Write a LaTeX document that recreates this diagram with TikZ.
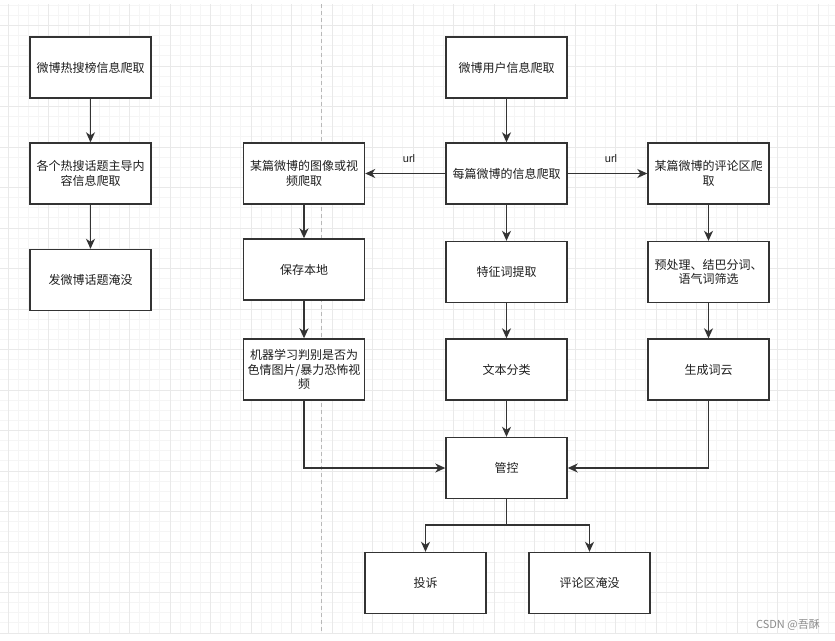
\documentclass[tikz,border=0pt]{standalone}
\usepackage{fontspec}
\setmainfont{Noto Sans CJK SC}
\newfontfamily\lat{Liberation Sans}
\usetikzlibrary{arrows.meta}
\definecolor{gminor}{HTML}{F5F5F5}
\definecolor{gmajor}{HTML}{E9E9E9}
\definecolor{ink}{HTML}{333333}
\definecolor{txt}{HTML}{1E1E1E}
\tikzset{
  box/.style={draw=ink, line width=1.4pt, fill=white, minimum width=121pt, minimum height=61pt,
    inner sep=0pt, align=center, text=txt, font=\fontsize{12}{14.5}\selectfont},
  conn/.style={draw=ink, line width=1.4pt, -{Stealth[length=10pt,width=9pt,inset=3pt]}},
  lbl/.style={font=\lat\fontsize{11}{13}\selectfont, text=txt, inner sep=0pt},
  minorl/.style={draw=gminor, line width=0.8pt},
  majorl/.style={draw=gmajor, line width=0.9pt},
  sepline/.style={draw=black!28, line width=0.9pt, dash pattern=on 4pt off 3pt},
}
\begin{document}
\begin{tikzpicture}[x=1pt,y=-1pt]
\useasboundingbox (0,0) rectangle (835,640);
\fill[white] (0,0) rectangle (835,640);
% grid
\begin{scope}
\clip (0,4) rectangle (835,633);
\foreach \k in {-1,...,83} { \draw[minorl] ({8+10.125*\k},4) -- ({8+10.125*\k},633); }
\foreach \k in {-3,...,62} { \draw[minorl] (0,{25.5+10.125*\k}) -- (835,{25.5+10.125*\k}); }
\foreach \k in {0,...,20} { \draw[majorl] ({8+40.5*\k},4) -- ({8+40.5*\k},633); }
\foreach \k in {-1,...,15} { \draw[majorl] (0,{25.5+40.5*\k}) -- (835,{25.5+40.5*\k}); }
\end{scope}
\draw[majorl] (0,633) -- (835,633);
% separator
\draw[sepline] (321.7,4) -- (321.7,633);

% left column
\node[box] (l1) at (90.5,67.5) {微博热搜榜信息爬取};
\node[box] (l2) at (90.5,173.5) {各个热搜话题主导内\\容信息爬取};
\node[box] (l3) at (90.5,280) {发微博话题淹没};

% left-middle column
\node[box] (p1) at (304,173.5) {某篇微博的图像或视\\频爬取};
\node[box] (p2) at (304,269.5) {保存本地};
\node[box] (p3) at (304,369.5) {机器学习判别是否为\\色情图片/暴力恐怖视\\频};

% middle column
\node[box] (m0) at (506.5,67.5) {微博用户信息爬取};
\node[box] (m1) at (506.5,173.5) {每篇微博的信息爬取};
\node[box] (m2) at (506.5,272) {特征词提取};
\node[box] (m3) at (506.5,369.5) {文本分类};
\node[box] (ctl) at (506.5,468) {管控};

% right column
\node[box] (r1) at (708.5,173.5) {某篇微博的评论区爬\\取};
\node[box] (r2) at (708.5,272) {预处理、结巴分词、\\语气词筛选};
\node[box] (r3) at (708.5,369.5) {生成词云};

% bottom
\node[box] (c1) at (425.5,583) {投诉};
\node[box] (c2) at (589.5,583) {评论区淹没};

\coordinate (split) at (506.5,525);

% connectors
\draw[conn] (l1) -- (l2);
\draw[conn] (l2) -- (l3);
\draw[conn] (m0) -- (m1);
\draw[conn] (m1) -- (p1);
\draw[conn] (m1) -- (r1);
\draw[conn] (p1) -- (p2);
\draw[conn] (p2) -- (p3);
\draw[conn] (m1) -- (m2);
\draw[conn] (m2) -- (m3);
\draw[conn] (m3) -- (ctl);
\draw[conn] (r1) -- (r2);
\draw[conn] (r2) -- (r3);
\draw[conn] (p3.south) |- (ctl.west);
\draw[conn] (r3.south) |- (ctl.east);
\draw[draw=ink, line width=1.4pt] (ctl.south) -- (split);
\draw[conn] (split) -| (c1.north);
\draw[conn] (split) -| (c2.north);

\node[lbl] (u1) at (409,158.5) {url};
\node[lbl] (u2) at (611,158.5) {url};

\node[anchor=east, inner sep=0pt, text=black!45, font=\fontsize{11}{13}\selectfont] (wm) at (820,624.5) {CSDN @吾酥};
\end{tikzpicture}
\end{document}
